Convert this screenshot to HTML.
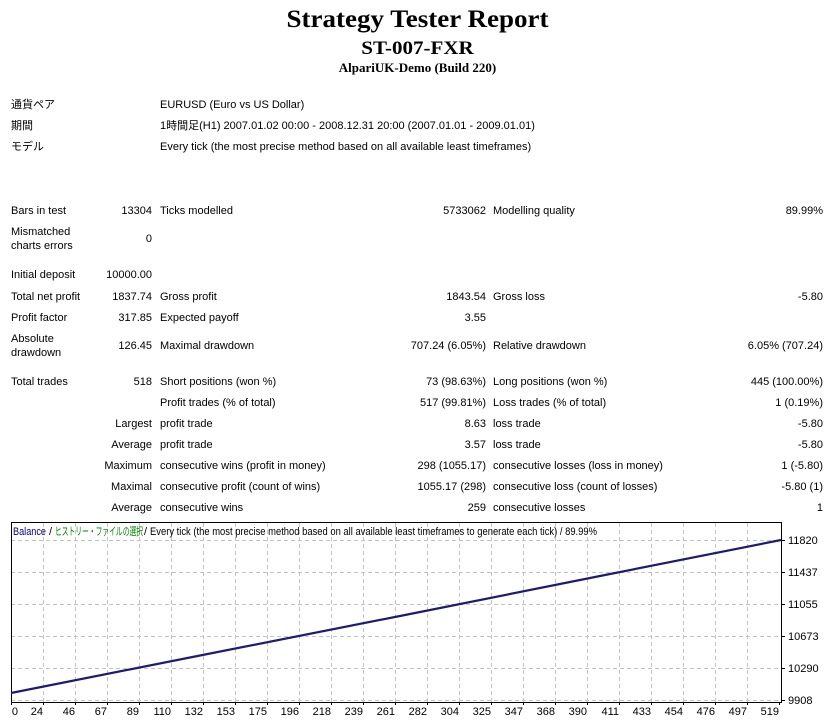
<!DOCTYPE html>
<html>
<head>
<meta charset="utf-8">
<style>
  html, body { margin:0; padding:0; background:#fff; }
  body { width:831px; height:721px; position:relative; overflow:hidden;
         font-family:"Liberation Sans","Noto Sans CJK JP",sans-serif; font-size:11px; color:#000; }
  .t { position:absolute; white-space:nowrap; line-height:14px; }
  .r { position:absolute; white-space:nowrap; line-height:14px; text-align:right; }
  .h { position:absolute; left:0; width:835px; text-align:center; white-space:nowrap;
       font-family:"Liberation Serif",serif; font-weight:bold; line-height:1; }
</style>
</head>
<body>
<div class="h" style="top:5px;font-size:27px;transform:scaleY(0.92);transform-origin:50% 84%;">Strategy Tester Report</div>
<div class="h" style="top:37px;font-size:21px;transform:scaleY(0.9);transform-origin:50% 84%;">ST-007-FXR</div>
<div class="h" style="top:61px;font-size:13px;">AlpariUK-Demo (Build 220)</div>

<!-- header info -->
<div class="t" style="left:11px;top:98px;">通貨ペア</div>
<div class="t" style="left:160px;top:98px;">EURUSD (Euro vs US Dollar)</div>
<div class="t" style="left:11px;top:119px;">期間</div>
<div class="t" style="left:160px;top:119px;">1時間足(H1) 2007.01.02 00:00 - 2008.12.31 20:00 (2007.01.01 - 2009.01.01)</div>
<div class="t" style="left:11px;top:140px;">モデル</div>
<div class="t" style="left:160px;top:140px;">Every tick (the most precise method based on all available least timeframes)</div>

<!-- row: bars -->
<div class="t" style="left:11px;top:204px;">Bars in test</div>
<div class="r" style="right:679px;top:204px;">13304</div>
<div class="t" style="left:160px;top:204px;">Ticks modelled</div>
<div class="r" style="right:345px;top:204px;">5733062</div>
<div class="t" style="left:493px;top:204px;">Modelling quality</div>
<div class="r" style="right:8px;top:204px;">89.99%</div>

<div class="t" style="left:11px;top:225px;">Mismatched</div>
<div class="t" style="left:11px;top:239px;">charts errors</div>
<div class="r" style="right:679px;top:232px;">0</div>

<div class="t" style="left:11px;top:268px;">Initial deposit</div>
<div class="r" style="right:679px;top:268px;">10000.00</div>

<div class="t" style="left:11px;top:290px;">Total net profit</div>
<div class="r" style="right:679px;top:290px;">1837.74</div>
<div class="t" style="left:160px;top:290px;">Gross profit</div>
<div class="r" style="right:345px;top:290px;">1843.54</div>
<div class="t" style="left:493px;top:290px;">Gross loss</div>
<div class="r" style="right:8px;top:290px;">-5.80</div>

<div class="t" style="left:11px;top:311px;">Profit factor</div>
<div class="r" style="right:679px;top:311px;">317.85</div>
<div class="t" style="left:160px;top:311px;">Expected payoff</div>
<div class="r" style="right:345px;top:311px;">3.55</div>

<div class="t" style="left:11px;top:332px;">Absolute</div>
<div class="t" style="left:11px;top:346px;">drawdown</div>
<div class="r" style="right:679px;top:339px;">126.45</div>
<div class="t" style="left:160px;top:339px;">Maximal drawdown</div>
<div class="r" style="right:345px;top:339px;">707.24 (6.05%)</div>
<div class="t" style="left:493px;top:339px;">Relative drawdown</div>
<div class="r" style="right:8px;top:339px;">6.05% (707.24)</div>

<div class="t" style="left:11px;top:375px;">Total trades</div>
<div class="r" style="right:679px;top:375px;">518</div>
<div class="t" style="left:160px;top:375px;">Short positions (won %)</div>
<div class="r" style="right:345px;top:375px;">73 (98.63%)</div>
<div class="t" style="left:493px;top:375px;">Long positions (won %)</div>
<div class="r" style="right:8px;top:375px;">445 (100.00%)</div>

<div class="t" style="left:160px;top:396px;">Profit trades (% of total)</div>
<div class="r" style="right:345px;top:396px;">517 (99.81%)</div>
<div class="t" style="left:493px;top:396px;">Loss trades (% of total)</div>
<div class="r" style="right:8px;top:396px;">1 (0.19%)</div>

<div class="r" style="right:679px;top:417px;">Largest</div>
<div class="t" style="left:160px;top:417px;">profit trade</div>
<div class="r" style="right:345px;top:417px;">8.63</div>
<div class="t" style="left:493px;top:417px;">loss trade</div>
<div class="r" style="right:8px;top:417px;">-5.80</div>

<div class="r" style="right:679px;top:438px;">Average</div>
<div class="t" style="left:160px;top:438px;">profit trade</div>
<div class="r" style="right:345px;top:438px;">3.57</div>
<div class="t" style="left:493px;top:438px;">loss trade</div>
<div class="r" style="right:8px;top:438px;">-5.80</div>

<div class="r" style="right:679px;top:459px;">Maximum</div>
<div class="t" style="left:160px;top:459px;">consecutive wins (profit in money)</div>
<div class="r" style="right:345px;top:459px;">298 (1055.17)</div>
<div class="t" style="left:493px;top:459px;">consecutive losses (loss in money)</div>
<div class="r" style="right:8px;top:459px;">1 (-5.80)</div>

<div class="r" style="right:679px;top:480px;">Maximal</div>
<div class="t" style="left:160px;top:480px;">consecutive profit (count of wins)</div>
<div class="r" style="right:345px;top:480px;">1055.17 (298)</div>
<div class="t" style="left:493px;top:480px;">consecutive loss (count of losses)</div>
<div class="r" style="right:8px;top:480px;">-5.80 (1)</div>

<div class="r" style="right:679px;top:501px;">Average</div>
<div class="t" style="left:160px;top:501px;">consecutive wins</div>
<div class="r" style="right:345px;top:501px;">259</div>
<div class="t" style="left:493px;top:501px;">consecutive losses</div>
<div class="r" style="right:8px;top:501px;">1</div>

<!-- chart -->
<svg style="position:absolute;left:0;top:0;" width="831" height="721" xmlns="http://www.w3.org/2000/svg">
  <g stroke="#c4c4c4" stroke-width="1" stroke-dasharray="4,3" fill="none">
    <line x1="11" y1="540.5" x2="781" y2="540.5"/>
    <line x1="11" y1="572.5" x2="781" y2="572.5"/>
    <line x1="11" y1="604.5" x2="781" y2="604.5"/>
    <line x1="11" y1="636.5" x2="781" y2="636.5"/>
    <line x1="11" y1="668.5" x2="781" y2="668.5"/>
    <line x1="11" y1="700.5" x2="781" y2="700.5"/>
    <line x1="43.5" y1="523" x2="43.5" y2="702"/>
    <line x1="75.5" y1="523" x2="75.5" y2="702"/>
    <line x1="107.5" y1="523" x2="107.5" y2="702"/>
    <line x1="139.5" y1="523" x2="139.5" y2="702"/>
    <line x1="171.5" y1="523" x2="171.5" y2="702"/>
    <line x1="203.5" y1="523" x2="203.5" y2="702"/>
    <line x1="235.5" y1="523" x2="235.5" y2="702"/>
    <line x1="267.5" y1="523" x2="267.5" y2="702"/>
    <line x1="299.5" y1="523" x2="299.5" y2="702"/>
    <line x1="331.5" y1="523" x2="331.5" y2="702"/>
    <line x1="363.5" y1="523" x2="363.5" y2="702"/>
    <line x1="395.5" y1="523" x2="395.5" y2="702"/>
    <line x1="427.5" y1="523" x2="427.5" y2="702"/>
    <line x1="459.5" y1="523" x2="459.5" y2="702"/>
    <line x1="491.5" y1="523" x2="491.5" y2="702"/>
    <line x1="523.5" y1="523" x2="523.5" y2="702"/>
    <line x1="555.5" y1="523" x2="555.5" y2="702"/>
    <line x1="587.5" y1="523" x2="587.5" y2="702"/>
    <line x1="619.5" y1="523" x2="619.5" y2="702"/>
    <line x1="651.5" y1="523" x2="651.5" y2="702"/>
    <line x1="683.5" y1="523" x2="683.5" y2="702"/>
    <line x1="715.5" y1="523" x2="715.5" y2="702"/>
    <line x1="747.5" y1="523" x2="747.5" y2="702"/>
  </g>
  <rect x="11.5" y="522.5" width="770" height="180" fill="none" stroke="#000" stroke-width="1"/>
  <g stroke="#000" stroke-width="1">
    <line x1="11.5" y1="703" x2="11.5" y2="705"/>
    <line x1="43.5" y1="703" x2="43.5" y2="705"/>
    <line x1="75.5" y1="703" x2="75.5" y2="705"/>
    <line x1="107.5" y1="703" x2="107.5" y2="705"/>
    <line x1="139.5" y1="703" x2="139.5" y2="705"/>
    <line x1="171.5" y1="703" x2="171.5" y2="705"/>
    <line x1="203.5" y1="703" x2="203.5" y2="705"/>
    <line x1="235.5" y1="703" x2="235.5" y2="705"/>
    <line x1="267.5" y1="703" x2="267.5" y2="705"/>
    <line x1="299.5" y1="703" x2="299.5" y2="705"/>
    <line x1="331.5" y1="703" x2="331.5" y2="705"/>
    <line x1="363.5" y1="703" x2="363.5" y2="705"/>
    <line x1="395.5" y1="703" x2="395.5" y2="705"/>
    <line x1="427.5" y1="703" x2="427.5" y2="705"/>
    <line x1="459.5" y1="703" x2="459.5" y2="705"/>
    <line x1="491.5" y1="703" x2="491.5" y2="705"/>
    <line x1="523.5" y1="703" x2="523.5" y2="705"/>
    <line x1="555.5" y1="703" x2="555.5" y2="705"/>
    <line x1="587.5" y1="703" x2="587.5" y2="705"/>
    <line x1="619.5" y1="703" x2="619.5" y2="705"/>
    <line x1="651.5" y1="703" x2="651.5" y2="705"/>
    <line x1="683.5" y1="703" x2="683.5" y2="705"/>
    <line x1="715.5" y1="703" x2="715.5" y2="705"/>
    <line x1="747.5" y1="703" x2="747.5" y2="705"/>
    <line x1="779.5" y1="703" x2="779.5" y2="705"/>
    <line x1="782" y1="540.5" x2="785" y2="540.5"/>
    <line x1="782" y1="572.5" x2="785" y2="572.5"/>
    <line x1="782" y1="604.5" x2="785" y2="604.5"/>
    <line x1="782" y1="636.5" x2="785" y2="636.5"/>
    <line x1="782" y1="668.5" x2="785" y2="668.5"/>
    <line x1="782" y1="700.5" x2="785" y2="700.5"/>
  </g>
  <polyline points="11,693 200,655.5 400,616 600,576 781,540" fill="none" stroke="#1c1c72" stroke-width="2.2"/>
  <g font-family="Liberation Sans, sans-serif" font-size="11" fill="#000">
    <text x="788" y="544">11820</text>
    <text x="788" y="576">11437</text>
    <text x="788" y="608">11055</text>
    <text x="788" y="640">10673</text>
    <text x="788" y="672">10290</text>
    <text x="788" y="704">9908</text>
  </g>
  <g font-family="Liberation Sans, sans-serif" font-size="11" fill="#000" text-anchor="end">
    <text x="18" y="715">0</text>
    <text x="43" y="715">24</text>
    <text x="75" y="715">46</text>
    <text x="107" y="715">67</text>
    <text x="139" y="715">89</text>
    <text x="171" y="715">110</text>
    <text x="203" y="715">132</text>
    <text x="235" y="715">153</text>
    <text x="267" y="715">175</text>
    <text x="299" y="715">196</text>
    <text x="331" y="715">218</text>
    <text x="363" y="715">239</text>
    <text x="395" y="715">261</text>
    <text x="427" y="715">282</text>
    <text x="459" y="715">304</text>
    <text x="491" y="715">325</text>
    <text x="523" y="715">347</text>
    <text x="555" y="715">368</text>
    <text x="587" y="715">390</text>
    <text x="619" y="715">411</text>
    <text x="651" y="715">433</text>
    <text x="683" y="715">454</text>
    <text x="715" y="715">476</text>
    <text x="747" y="715">497</text>
    <text x="779" y="715">519</text>
  </g>
  <g font-family="Liberation Sans, Noto Sans CJK JP, sans-serif" font-size="11">
    <text x="13" y="535" fill="#000080" textLength="33" lengthAdjust="spacingAndGlyphs">Balance</text>
    <text x="49" y="535" fill="#000">/</text>
    <text x="55" y="535" fill="#008000" textLength="88" lengthAdjust="spacingAndGlyphs">ヒストリー・ファイルの選択</text>
    <text x="144" y="535" fill="#000">/</text>
    <text x="150" y="535" fill="#000" textLength="447" lengthAdjust="spacingAndGlyphs">Every tick (the most precise method based on all available least timeframes to generate each tick) / 89.99%</text>
  </g>
</svg>
</body>
</html>
